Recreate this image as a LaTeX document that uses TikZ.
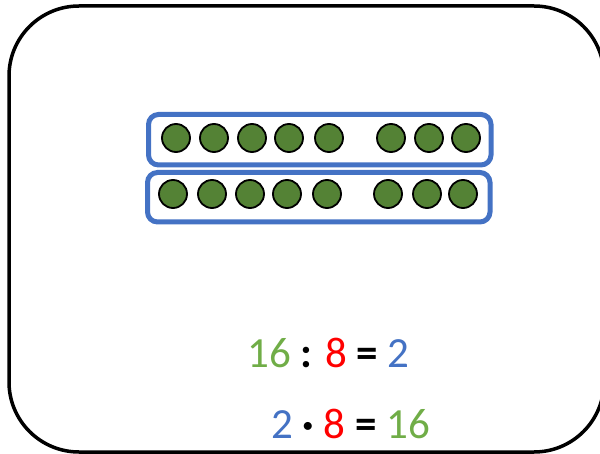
\documentclass[tikz,border=0pt]{standalone}
\usepackage{fontspec}
\setmainfont{Carlito}
\usepackage{tikz}
\usetikzlibrary{calc}

\definecolor{beadgreen}{HTML}{548235}
\definecolor{numgreen}{HTML}{70AD47}
\definecolor{numred}{HTML}{FF0000}
\definecolor{numblue}{HTML}{4472C4}

\begin{document}
\begin{tikzpicture}[x=1pt, y=-1pt,
    bead/.style={circle, draw=black, line width=1.8pt, fill=beadgreen,
      minimum size=28pt, inner sep=0pt},
    rowbox/.style={draw=numblue, line width=5pt, rounded corners=10pt},
    eqtext/.style={anchor=base west, inner sep=0pt,
      font=\fontsize{43}{50}\selectfont}]
  \useasboundingbox (0,0) rectangle (600,454);

  % Outer frame (runs off the page on the right)
  \begin{scope}
    \clip (0,0) rectangle (600,454);
    \draw[line width=3.5pt, rounded corners=70pt] (9,6) rectangle (604,452);
  \end{scope}

  % The two rows of eight
  \draw[rowbox] (148.5,114.5) rectangle (491,165);
  \draw[rowbox] (147.5,172.5) rectangle (490,222);

  % Beads, upper row
  \foreach \x [count=\i] in {176,214,252,289,329,391,429,466}
    \node[bead] (top\i) at (\x,138) {};
  % Beads, lower row
  \foreach \x [count=\i] in {173,212,250,287,327,388,427,463}
    \node[bead] (low\i) at (\x,194) {};

  % Equations
  \node[eqtext] (divide) at (247,367)
    {\textcolor{numgreen}{16} \textbf{:} \textcolor{numred}{8} \textbf{=} \textcolor{numblue}{2}};
  \node[eqtext] (times) at (271,438)
    {\textcolor{numblue}{2} \textbf{·} \textcolor{numred}{8} \textbf{=} \textcolor{numgreen}{16}};
\end{tikzpicture}
\end{document}
